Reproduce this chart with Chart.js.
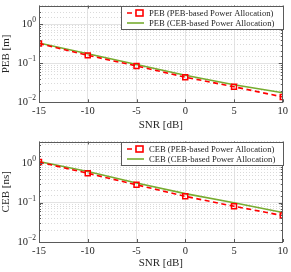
<!DOCTYPE html>
<html><head><meta charset="utf-8">
<script src="https://cdn.jsdelivr.net/npm/chart.js@4/dist/chart.umd.min.js"></script>
<style>
html,body{margin:0;padding:0;background:#fff;}
.w{width:291px;height:136px;position:relative;}
canvas{display:block;}
</style></head><body>
<div class="w"><canvas id="c1" width="291" height="136"></canvas></div>
<div class="w"><canvas id="c2" width="291" height="136"></canvas></div>
<script>
const snr = [-15, -10, -5, 0, 5, 10];
const xTicks = [-15, -10, -5, 0, 5, 10];
const pebPebAlloc = [0.32, 0.159, 0.085, 0.044, 0.025, 0.0137];
const pebCebAlloc = [0.33, 0.174, 0.093, 0.049, 0.028, 0.0176];
const cebPebAlloc = [1.08, 0.56, 0.285, 0.145, 0.081, 0.047];
const cebCebAlloc = [1.12, 0.62, 0.315, 0.17, 0.1, 0.056];
const yDecades = [0.01, 0.1, 1];
const labelsPeb = ['PEB (PEB-based Power Allocation)', 'PEB (CEB-based Power Allocation)'];
const labelsCeb = ['CEB (PEB-based Power Allocation)', 'CEB (CEB-based Power Allocation)'];

const RED = '#ff0000', GREEN = '#77ac30';
const SERIF = '"Liberation Serif", "DejaVu Serif", serif';

function isDecade(v){ const l = Math.log10(v); return Math.abs(l - Math.round(l)) < 1e-6; }

const boxPlugin = {
  id: 'box',
  afterDraw(chart) {
    const ctx = chart.ctx, a = chart.chartArea, y = chart.scales.y;
    ctx.save();
    ctx.strokeStyle = '#5a5a5a'; ctx.lineWidth = 1;
    ctx.strokeRect(Math.round(a.left) + 0.5, Math.round(a.top) + 0.5,
                   Math.round(a.right - a.left) - 1, Math.round(a.bottom - a.top) - 1);
    ctx.beginPath();
    y.ticks.forEach(t => {
      const py = Math.round(y.getPixelForValue(t.value)) + 0.5;
      const len = isDecade(t.value) ? 4 : 2;
      ctx.moveTo(a.left, py); ctx.lineTo(a.left + len, py);
      ctx.moveTo(a.right, py); ctx.lineTo(a.right - len, py);
    });
    const x = chart.scales.x;
    xTicks.forEach(v => {
      const px = Math.round(x.getPixelForValue(v)) + 0.5;
      ctx.moveTo(px, a.bottom); ctx.lineTo(px, a.bottom - 3);
      ctx.moveTo(px, a.top); ctx.lineTo(px, a.top + 3);
    });
    ctx.stroke();
    ctx.fillStyle = '#262626';
    ctx.textBaseline = 'middle';
    yDecades.forEach(v => {
      const py = y.getPixelForValue(v);
      if (py < a.top - 1 || py > a.bottom + 1) return;
      const e = String(Math.round(Math.log10(v))).replace('-', '\u2212');
      ctx.font = '7.5px ' + SERIF;
      const ew = ctx.measureText(e).width;
      ctx.textAlign = 'right';
      ctx.fillText(e, 36, py - 4);
      ctx.font = '10.5px ' + SERIF;
      ctx.fillText('10', 36 - ew, py);
    });
    const ds = chart.data.datasets;
    const w = 163, h = 24;
    const x0 = Math.round(a.right) - w + 1, y0 = Math.round(a.top);
    ctx.fillStyle = '#fff';
    ctx.fillRect(x0, y0, w, h);
    ctx.strokeStyle = '#5a5a5a';
    ctx.strokeRect(x0 + 0.5, y0 + 0.5, w - 1, h - 1);
    ctx.font = '8.6px ' + SERIF;
    ctx.textAlign = 'left';
    ds.forEach((d, i) => {
      const ly = y0 + 7 + i * 10;
      ctx.strokeStyle = d.borderColor;
      ctx.lineWidth = 1.6;
      ctx.setLineDash(d.borderDash || []);
      ctx.beginPath(); ctx.moveTo(x0 + 6, ly); ctx.lineTo(x0 + 23, ly); ctx.stroke();
      ctx.setLineDash([]);
      if (d.pointRadius > 0) {
        ctx.fillStyle = '#fff';
        ctx.fillRect(x0 + 15, ly - 3, 7, 6);
        ctx.strokeRect(x0 + 15, ly - 3, 7, 6);
      }
      ctx.fillStyle = '#262626';
      ctx.fillText(d.label, x0 + 28, ly + 0.5);
    });
    ctx.restore();
  }
};

function makeChart(id, title, labels, red, green, ymax, padTop, xHeight, xTitlePad) {
  return new Chart(document.getElementById(id), {
    type: 'line',
    data: {
      datasets: [
        { label: labels[0], data: snr.map((s, i) => ({x: s, y: red[i]})),
          borderColor: RED, borderWidth: 1.6, borderDash: [5, 3.5],
          pointStyle: 'rect', pointRadius: 3.5, pointBorderWidth: 1.5,
          pointBorderColor: RED, pointBackgroundColor: 'rgba(0,0,0,0)', order: 0 },
        { label: labels[1], data: snr.map((s, i) => ({x: s, y: green[i]})),
          borderColor: GREEN, borderWidth: 1.6, pointRadius: 0, order: 1 }
      ]
    },
    options: {
      responsive: false, animation: false,
      layout: { padding: { top: padTop, right: 7, left: 0, bottom: 0 } },
      plugins: { legend: { display: false }, tooltip: { enabled: false } },
      scales: {
        x: {
          type: 'linear', min: -15, max: 10,
          afterBuildTicks: s => { s.ticks = xTicks.map(v => ({value: v})); },
          afterFit: s => { s.height = xHeight; },
          grid: { color: '#e3e3e3', lineWidth: 1, drawTicks: false },
          border: { display: false },
          ticks: { padding: 3, color: '#262626', font: { family: SERIF, size: 10.5 }, maxRotation: 0 },
          title: { display: true, text: 'SNR [dB]', color: '#262626',
                   font: { family: SERIF, size: 11 }, padding: { top: 0, bottom: xTitlePad } }
        },
        y: {
          type: 'logarithmic', min: 0.01, max: ymax, position: 'left',
          afterFit: s => { s.width = 39; },
          grid: { drawTicks: false, lineWidth: 1,
                  color: c => isDecade(c.tick.value) ? '#e3e3e3' : 'rgba(0,0,0,0)' },
          border: { display: false },
          ticks: { display: false },
          title: { display: true, text: title, color: '#262626',
                   font: { family: SERIF, size: 11 }, padding: { top: 0, bottom: 0 } }
        },
        y2: {
          type: 'logarithmic', min: 0.01, max: ymax, position: 'left',
          afterFit: s => { s.width = 0; },
          grid: { drawTicks: false, lineWidth: 1,
                  color: c => isDecade(c.tick.value) ? 'rgba(0,0,0,0)' : '#dadada' },
          border: { display: false, dash: [1, 2] },
          ticks: { display: false }
        }
      }
    },
    plugins: [boxPlugin]
  });
}

makeChart('c1', 'PEB [m]', labelsPeb, pebPebAlloc, pebCebAlloc, 3.0, 1, 33.7, 4.5);
makeChart('c2', 'CEB [ns]', labelsCeb, cebPebAlloc, cebCebAlloc, 3.6, 5, 30, 2.5);
</script>
</body></html>
